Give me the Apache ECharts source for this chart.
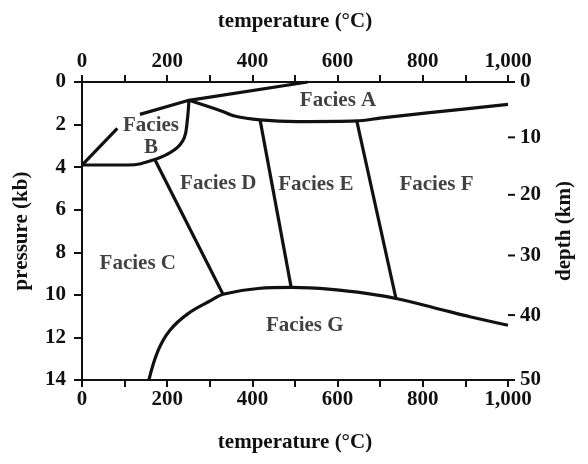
<!DOCTYPE html>
<html>
<head>
<meta charset="utf-8">
<script src="https://cdn.jsdelivr.net/npm/echarts@6/dist/echarts.min.js"></script>
<style>
html,body{margin:0;padding:0;background:#fff;}
#chart{width:588px;height:464px;}
</style>
</head>
<body>
<div id="chart"></div>
<script>
// ---- Data ----
const tempTickLabels = ['0', '200', '400', '600', '800', '1,000'];
const pressureTickLabels = ['0', '2', '4', '6', '8', '10', '12', '14'];
const depthTickLabels = ['0', '10', '20', '30', '40', '50'];
const depthTickPressure = [0, 2.6, 5.3, 8.15, 10.95, 14];

// boundaries: [temperature °C, pressure kb]
const lineUpperA = [[136, 1.52], [251, 0.86], [530, 0]];
const lineShortB = [[0, 3.9], [83, 2.18]];
const curveB = [[0, 3.9], [108, 3.9], [171, 3.64], [218, 3.17], [240, 2.62], [247, 1.83], [251, 0.86]];
const curveLowerA = [[251, 0.86], [327, 1.36], [358, 1.6], [418, 1.78], [504, 1.86], [645, 1.83], [699, 1.7], [816, 1.44], [1000, 1.05]];
const lineCD = [[172, 3.69], [331, 9.97]];
const lineDE = [[418, 1.78], [491, 9.65]];
const lineEF = [[645, 1.83], [737, 10.17]];
const curveG = [[157, 14], [179, 12.6], [206, 11.67], [249, 10.88], [304, 10.25], [331, 9.97], [413, 9.7], [491, 9.65], [585, 9.74], [671, 9.94], [737, 10.17], [835, 10.65], [913, 11.04], [1000, 11.43]];

const faciesNames = ['Facies A', 'Facies\nB', 'Facies C', 'Facies D', 'Facies E', 'Facies F', 'Facies G'];
const faciesPos = [[601, 0.89], [162, 2.55], [131, 8.52], [320, 4.79], [549, 4.83], [832, 4.83], [523, 11.43]];

// ---- Chart ----
const FONT = 'Liberation Serif';
const INK = '#111';
const chart = echarts.init(document.getElementById('chart'), null, {renderer: 'canvas'});

function xAxisDef(pos) {
  return {
    type: 'value', position: pos, min: 0, max: 1000, interval: 100,
    name: 'temperature (°C)', nameLocation: 'middle', nameGap: pos === 'top' ? 50 : 52,
    nameTextStyle: {fontFamily: FONT, fontSize: 21, fontWeight: 'bold', color: INK},
    axisLine: {show: true, onZero: false, lineStyle: {color: INK, width: 2}},
    axisTick: {show: true, inside: false, length: 7, lineStyle: {color: INK, width: 2}},
    axisLabel: {
      margin: pos === 'top' ? 10 : 9, fontFamily: FONT, fontSize: 21, fontWeight: 'bold', color: INK,
      formatter: v => (v % 200 === 0 ? tempTickLabels[v / 200] : '')
    },
    splitLine: {show: false}
  };
}

const lineSeries = (data, smooth) => ({
  type: 'line', data: data, smooth: smooth, showSymbol: false, symbol: 'none',
  lineStyle: {color: INK, width: 3.2}, silent: true, animation: false, z: 3
});

chart.setOption({
  animation: false,
  grid: {left: 82, right: 80, top: 82, bottom: 84},
  xAxis: [xAxisDef('bottom'), xAxisDef('top')],
  yAxis: [
    {
      type: 'value', position: 'left', inverse: true, min: 0, max: 14, interval: 2,
      name: 'pressure (kb)', nameLocation: 'middle', nameGap: 50, nameRotate: 90,
      nameTextStyle: {fontFamily: FONT, fontSize: 21, fontWeight: 'bold', color: INK},
      axisLine: {show: true, lineStyle: {color: INK, width: 2}},
      axisTick: {show: true, length: 8, lineStyle: {color: INK, width: 2}},
      axisLabel: {margin: 16, fontFamily: FONT, fontSize: 21, fontWeight: 'bold', color: INK,
        formatter: v => pressureTickLabels[v / 2]},
      splitLine: {show: false}
    },
    {
      type: 'value', position: 'right', inverse: true, min: 0, max: 14,
      name: 'depth (km)', nameLocation: 'middle', nameGap: 46, nameRotate: 90,
      nameTextStyle: {fontFamily: FONT, fontSize: 21, fontWeight: 'bold', color: INK},
      axisLine: {show: true, lineStyle: {color: INK, width: 2}},
      axisTick: {show: false},
      axisLabel: {margin: 12, fontFamily: FONT, fontSize: 21, fontWeight: 'bold', color: INK,
        customValues: depthTickPressure,
        formatter: v => {
          const i = depthTickPressure.findIndex(d => Math.abs(d - v) < 1e-6);
          return i >= 0 ? depthTickLabels[i] : '';
        }},
      splitLine: {show: false}
    }
  ],
  series: [
    lineSeries(lineUpperA, false),
    lineSeries(lineShortB, false),
    lineSeries(curveB, 0.4),
    lineSeries(curveLowerA, 0.3),
    lineSeries(lineCD, false),
    lineSeries(lineDE, false),
    lineSeries(lineEF, false),
    lineSeries(curveG, 0.4),
    {
      // depth-axis ticks on the right axis, positioned through the axis scale
      type: 'custom', silent: true, clip: false, z: 4, yAxisIndex: 1,
      data: depthTickPressure.map(p => [1000, p]),
      renderItem: (params, api) => {
        const pt = api.coord([api.value(0), api.value(1)]);
        return {type: 'line', shape: {x1: pt[0], y1: pt[1], x2: pt[0] + 7, y2: pt[1]},
          style: {stroke: INK, lineWidth: 2}};
      }
    },
    {
      type: 'scatter', symbolSize: 1, itemStyle: {color: 'rgba(0,0,0,0)'}, silent: true, z: 5,
      data: faciesNames.map((n, i) => ({name: n, value: faciesPos[i]})),
      label: {show: true, position: 'inside', formatter: '{b}', fontFamily: FONT, fontSize: 21,
        fontWeight: 'bold', color: INK, lineHeight: 22, align: 'center', verticalAlign: 'middle'}
    }
  ]
});
</script>
</body>
</html>
